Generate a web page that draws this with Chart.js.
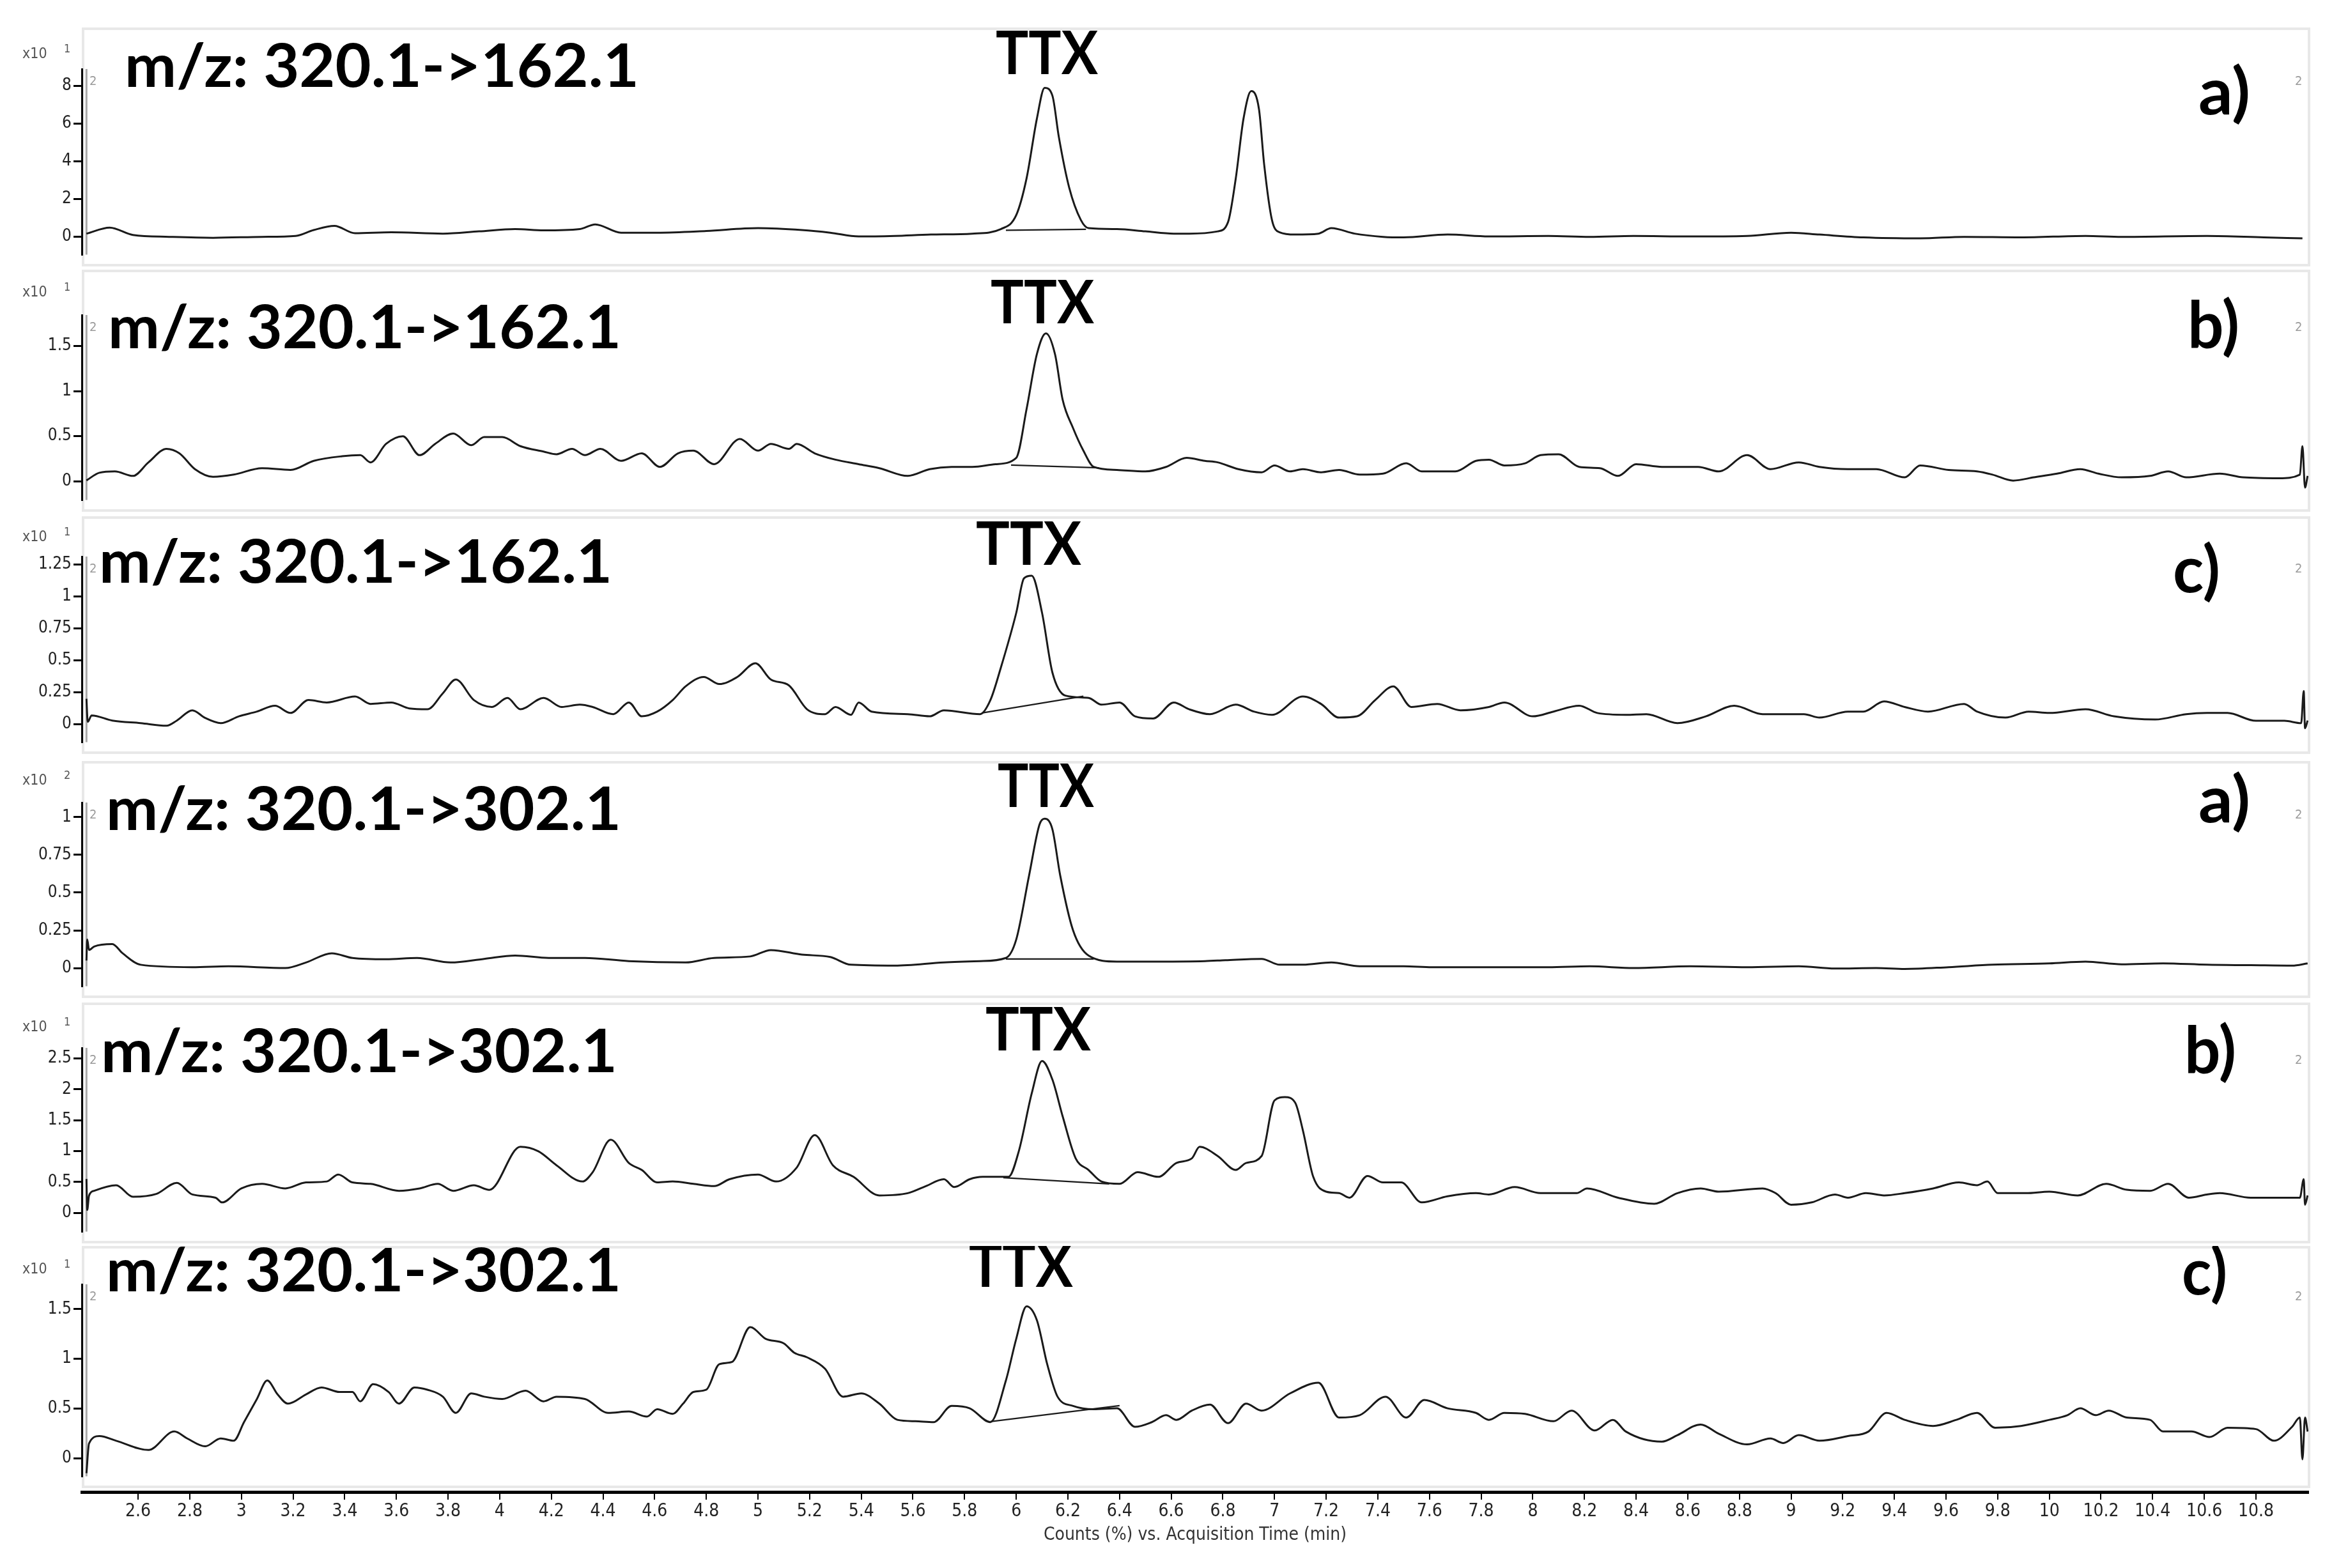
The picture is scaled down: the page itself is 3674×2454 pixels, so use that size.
<!DOCTYPE html>
<html>
<head>
<meta charset="utf-8">
<script src="https://cdn.jsdelivr.net/npm/chart.js@4.4.1/dist/chart.umd.min.js"></script>
<style>
  html, body { margin: 0; padding: 0; background: #fff; }
  #page { position: relative; width: 3674px; height: 2454px; overflow: hidden; background: #fff; }
  #page canvas { position: absolute; left: 0; }
</style>
</head>
<body>
<div id="page"></div>
<script>
// ---- data: [time (min), counts] ----
const xTicks = [2.6, 2.8, 3, 3.2, 3.4, 3.6, 3.8, 4, 4.2, 4.4, 4.6, 4.8, 5, 5.2, 5.4, 5.6, 5.8, 6, 6.2, 6.4,
  6.6, 6.8, 7, 7.2, 7.4, 7.6, 7.8, 8, 8.2, 8.4, 8.6, 8.8, 9, 9.2, 9.4, 9.6, 9.8, 10, 10.2, 10.4, 10.6, 10.8];

const transitions = ['320.1->162.1', '320.1->162.1', '320.1->162.1', '320.1->302.1', '320.1->302.1', '320.1->302.1'];
const sampleTags = ['a)', 'b)', 'c)', 'a)', 'b)', 'c)'];
const exponents = ['1', '1', '1', '2', '1', '1'];

const p1Ticks = [0, 2, 4, 6, 8];
const p2Ticks = [0, 0.5, 1, 1.5];
const p3Ticks = [0, 0.25, 0.5, 0.75, 1, 1.25];
const p4Ticks = [0, 0.25, 0.5, 0.75, 1];
const p5Ticks = [0, 0.5, 1, 1.5, 2, 2.5];
const p6Ticks = [0, 0.5, 1, 1.5];

const p1Trace = [[2.40,0.17],[2.49,0.49],[2.58,0.10],[2.72,0.0],[2.89,-0.05],[3.08,0.0],[3.21,0.05],[3.28,0.36],
  [3.36,0.58],[3.44,0.19],[3.58,0.24],[3.78,0.17],[3.92,0.29],[4.06,0.41],[4.17,0.34],[4.31,0.41],[4.37,0.66],
  [4.47,0.22],[4.61,0.22],[4.80,0.31],[5.00,0.46],[5.17,0.36],[5.28,0.22],[5.39,0.02],[5.53,0.05],[5.67,0.12],
  [5.83,0.17],[5.94,0.41],[6.00,1.15],[6.04,3.10],[6.08,6.27],[6.11,7.9],[6.14,7.49],[6.165,5.29],[6.205,2.61],
  [6.25,0.90],[6.28,0.46],[6.39,0.41],[6.50,0.29],[6.61,0.17],[6.67,0.17],[6.78,0.29],[6.82,0.78],[6.85,3.10],
  [6.88,6.27],[6.91,7.73],[6.94,6.76],[6.96,3.83],[6.99,0.90],[7.02,0.24],[7.08,0.12],[7.17,0.17],[7.22,0.46],
  [7.31,0.17],[7.42,0.0],[7.50,-0.03],[7.67,0.12],[7.83,0.02],[8.06,0.05],[8.22,0.0],[8.39,0.05],[8.61,0.02],
  [8.83,0.05],[9.00,0.22],[9.11,0.12],[9.28,-0.03],[9.50,-0.08],[9.67,0.0],[9.89,-0.03],[10.14,0.05],[10.28,0.0],
  [10.61,0.05],[10.83,-0.03],[10.98,-0.08]];

const p2Trace = [[2.40,0.01],[2.45,0.095],[2.51,0.11],[2.58,0.06],[2.64,0.21],[2.71,0.36],[2.76,0.31],[2.82,0.135],
  [2.89,0.05],[2.97,0.074],[3.08,0.146],[3.19,0.126],[3.28,0.227],[3.39,0.278],[3.46,0.29],[3.50,0.21],[3.56,0.415],
  [3.625,0.50],[3.69,0.29],[3.75,0.415],[3.82,0.53],[3.89,0.40],[3.94,0.49],[4.01,0.49],[4.08,0.39],[4.17,0.33],
  [4.22,0.30],[4.28,0.36],[4.33,0.29],[4.39,0.36],[4.47,0.227],[4.55,0.31],[4.62,0.16],[4.69,0.31],[4.75,0.34],
  [4.83,0.19],[4.93,0.47],[5.00,0.34],[5.05,0.415],[5.12,0.36],[5.15,0.415],[5.22,0.31],[5.30,0.24],[5.39,0.19],
  [5.47,0.146],[5.58,0.06],[5.665,0.135],[5.75,0.16],[5.83,0.16],[5.92,0.19],[6.00,0.26],[6.04,0.80],[6.08,1.41],
  [6.115,1.64],[6.15,1.41],[6.18,0.90],[6.22,0.59],[6.26,0.34],[6.30,0.16],[6.39,0.126],[6.50,0.11],[6.58,0.16],
  [6.66,0.26],[6.73,0.227],[6.78,0.21],[6.86,0.135],[6.95,0.10],[7.00,0.176],[7.06,0.11],[7.11,0.135],[7.18,0.10],
  [7.25,0.126],[7.33,0.074],[7.42,0.085],[7.51,0.20],[7.57,0.11],[7.70,0.11],[7.78,0.227],[7.83,0.24],[7.89,0.176],
  [7.97,0.20],[8.03,0.29],[8.10,0.30],[8.18,0.16],[8.26,0.146],[8.33,0.06],[8.40,0.19],[8.50,0.16],[8.64,0.16],
  [8.72,0.11],[8.83,0.29],[8.92,0.135],[9.03,0.21],[9.11,0.16],[9.22,0.135],[9.33,0.135],[9.44,0.044],[9.50,0.176],
  [9.61,0.126],[9.72,0.11],[9.78,0.074],[9.86,0.008],[9.94,0.044],[10.03,0.085],[10.12,0.135],[10.19,0.085],
  [10.28,0.044],[10.39,0.06],[10.46,0.11],[10.53,0.044],[10.66,0.085],[10.75,0.044],[10.89,0.034],[10.97,0.074],
  [10.98,0.39],[10.99,-0.07],[11.00,0.06]];

const p3Trace = [[2.40,0.20],[2.405,0.02],[2.42,0.07],[2.50,0.03],[2.61,0.01],[2.71,-0.01],[2.75,0.03],[2.81,0.11],
  [2.86,0.05],[2.92,0.01],[2.99,0.063],[3.06,0.10],[3.13,0.146],[3.19,0.089],[3.26,0.19],[3.33,0.171],[3.44,0.218],
  [3.50,0.16],[3.58,0.171],[3.65,0.125],[3.72,0.118],[3.78,0.243],[3.83,0.35],[3.90,0.19],[3.97,0.136],[4.03,0.207],
  [4.08,0.118],[4.17,0.207],[4.24,0.136],[4.31,0.154],[4.36,0.136],[4.44,0.08],[4.50,0.171],[4.55,0.063],[4.61,0.10],
  [4.67,0.19],[4.72,0.297],[4.79,0.37],[4.85,0.315],[4.92,0.37],[4.99,0.477],[5.05,0.35],[5.12,0.304],[5.19,0.118],
  [5.26,0.08],[5.30,0.136],[5.36,0.075],[5.39,0.171],[5.44,0.10],[5.58,0.08],[5.665,0.063],[5.72,0.11],[5.86,0.08],
  [5.90,0.19],[5.94,0.44],[6.00,0.87],[6.03,1.14],[6.06,1.16],[6.10,0.87],[6.14,0.405],[6.19,0.225],[6.28,0.207],
  [6.33,0.154],[6.40,0.171],[6.46,0.063],[6.53,0.046],[6.61,0.171],[6.67,0.118],[6.75,0.08],[6.85,0.154],[6.92,0.10],
  [6.99,0.075],[7.11,0.218],[7.18,0.16],[7.25,0.053],[7.32,0.063],[7.39,0.19],[7.46,0.297],[7.53,0.136],[7.63,0.16],
  [7.72,0.11],[7.83,0.136],[7.89,0.171],[8.00,0.063],[8.08,0.10],[8.18,0.146],[8.25,0.089],[8.36,0.075],[8.44,0.08],
  [8.56,0.01],[8.67,0.063],[8.78,0.146],[8.89,0.08],[9.05,0.08],[9.11,0.053],[9.22,0.10],[9.28,0.10],[9.36,0.179],
  [9.44,0.136],[9.53,0.10],[9.67,0.16],[9.72,0.10],[9.83,0.053],[9.92,0.10],[10.00,0.089],[10.14,0.118],[10.25,0.063],
  [10.41,0.038],[10.53,0.08],[10.61,0.089],[10.69,0.089],[10.80,0.028],[10.91,0.028],[10.975,0.01],[10.985,0.26],
  [10.99,-0.03],[11.00,0.03]];

const p4Trace = [[2.40,0.05],[2.403,0.19],[2.41,0.12],[2.43,0.143],[2.50,0.159],[2.54,0.098],[2.61,0.022],[2.81,0.006],
  [2.95,0.012],[3.17,0.0],[3.25,0.037],[3.35,0.098],[3.43,0.067],[3.56,0.058],[3.68,0.067],[3.81,0.037],[3.94,0.061],
  [4.06,0.083],[4.19,0.067],[4.33,0.067],[4.50,0.046],[4.72,0.037],[4.83,0.067],[4.97,0.077],[5.05,0.119],[5.17,0.089],
  [5.28,0.073],[5.36,0.022],[5.53,0.016],[5.72,0.037],[5.86,0.046],[5.96,0.067],[6.00,0.189],[6.05,0.616],[6.09,0.951],
  [6.11,0.99],[6.14,0.92],[6.17,0.616],[6.22,0.25],[6.28,0.083],[6.39,0.043],[6.55,0.043],[6.73,0.046],[6.81,0.052],
  [6.95,0.061],[7.02,0.022],[7.11,0.022],[7.22,0.037],[7.33,0.012],[7.50,0.012],[7.61,0.006],[7.78,0.006],[8.06,0.006],
  [8.22,0.012],[8.39,0.0],[8.61,0.012],[8.83,0.006],[9.03,0.012],[9.17,-0.003],[9.33,0.0],[9.44,-0.006],[9.61,0.006],
  [9.78,0.022],[10.00,0.031],[10.14,0.043],[10.28,0.025],[10.44,0.031],[10.61,0.022],[10.78,0.019],[10.94,0.016],
  [11.00,0.031]];

const p5Trace = [[2.40,0.55],[2.403,0.05],[2.41,0.28],[2.43,0.359],[2.515,0.449],[2.58,0.262],[2.67,0.307],[2.75,0.487],
  [2.81,0.299],[2.90,0.247],[2.925,0.171],[3.00,0.397],[3.08,0.471],[3.17,0.397],[3.25,0.494],[3.33,0.509],[3.375,0.622],
  [3.43,0.494],[3.50,0.471],[3.61,0.359],[3.69,0.397],[3.76,0.471],[3.82,0.359],[3.90,0.449],[3.96,0.374],[4.08,1.07],
  [4.15,0.997],[4.22,0.772],[4.32,0.509],[4.36,0.659],[4.43,1.184],[4.50,0.809],[4.55,0.696],[4.61,0.494],[4.67,0.509],
  [4.75,0.471],[4.83,0.434],[4.89,0.546],[5.00,0.622],[5.07,0.509],[5.15,0.734],[5.22,1.259],[5.29,0.772],[5.37,0.584],
  [5.47,0.284],[5.58,0.32],[5.65,0.434],[5.72,0.546],[5.76,0.419],[5.82,0.546],[5.87,0.584],[5.97,0.584],[6.01,1.0],
  [6.06,1.934],[6.10,2.458],[6.14,2.158],[6.18,1.559],[6.23,0.884],[6.28,0.696],[6.33,0.509],[6.40,0.471],[6.47,0.659],
  [6.55,0.584],[6.62,0.809],[6.68,0.884],[6.71,1.07],[6.78,0.921],[6.85,0.696],[6.89,0.809],[6.95,0.921],[7.00,1.82],
  [7.04,1.874],[7.08,1.784],[7.11,1.334],[7.15,0.584],[7.20,0.345],[7.25,0.321],[7.29,0.247],[7.36,0.599],[7.42,0.494],
  [7.49,0.494],[7.57,0.171],[7.67,0.27],[7.78,0.321],[7.83,0.299],[7.93,0.419],[8.03,0.321],[8.17,0.321],[8.21,0.397],
  [8.33,0.247],[8.47,0.149],[8.56,0.321],[8.65,0.397],[8.72,0.345],[8.89,0.397],[8.94,0.321],[9.00,0.134],[9.08,0.171],
  [9.17,0.299],[9.22,0.247],[9.29,0.321],[9.36,0.284],[9.44,0.321],[9.55,0.397],[9.65,0.494],[9.72,0.449],[9.76,0.509],
  [9.80,0.321],[9.91,0.321],[10.00,0.345],[10.11,0.284],[10.22,0.471],[10.30,0.375],[10.39,0.359],[10.46,0.471],
  [10.54,0.247],[10.61,0.299],[10.66,0.321],[10.78,0.247],[10.89,0.247],[10.97,0.247],[10.985,0.546],[10.99,0.134],
  [11.00,0.284]];

const p6Trace = [[2.40,-0.15],[2.41,0.15],[2.45,0.224],[2.515,0.177],[2.64,0.084],[2.74,0.27],[2.79,0.20],[2.86,0.121],
  [2.92,0.20],[2.97,0.177],[3.01,0.364],[3.06,0.597],[3.10,0.783],[3.14,0.643],[3.18,0.55],[3.25,0.643],[3.31,0.713],
  [3.38,0.667],[3.43,0.667],[3.46,0.573],[3.51,0.746],[3.57,0.667],[3.61,0.55],[3.67,0.713],[3.72,0.69],[3.78,0.62],
  [3.83,0.457],[3.89,0.653],[3.94,0.62],[4.01,0.597],[4.10,0.68],[4.17,0.573],[4.22,0.62],[4.33,0.597],[4.42,0.457],
  [4.50,0.471],[4.57,0.42],[4.61,0.494],[4.67,0.447],[4.71,0.55],[4.75,0.667],[4.80,0.69],[4.85,0.946],[4.90,0.97],
  [4.97,1.319],[5.03,1.202],[5.10,1.156],[5.14,1.063],[5.19,1.016],[5.26,0.90],[5.33,0.62],[5.40,0.653],[5.47,0.55],
  [5.54,0.387],[5.61,0.373],[5.68,0.364],[5.75,0.527],[5.82,0.503],[5.90,0.364],[5.96,0.783],[6.00,1.202],[6.04,1.529],
  [6.08,1.389],[6.12,0.946],[6.16,0.62],[6.22,0.527],[6.30,0.494],[6.39,0.503],[6.46,0.317],[6.525,0.364],[6.58,0.434],
  [6.62,0.387],[6.68,0.48],[6.75,0.54],[6.82,0.354],[6.89,0.55],[6.95,0.48],[7.06,0.653],[7.17,0.76],[7.25,0.41],
  [7.33,0.434],[7.43,0.62],[7.51,0.41],[7.58,0.587],[7.67,0.503],[7.78,0.457],[7.83,0.387],[7.89,0.457],[7.97,0.447],
  [8.08,0.373],[8.15,0.48],[8.24,0.28],[8.31,0.387],[8.36,0.27],[8.50,0.168],[8.56,0.233],[8.65,0.34],[8.72,0.247],
  [8.83,0.14],[8.92,0.20],[8.97,0.154],[9.03,0.233],[9.11,0.177],[9.22,0.224],[9.30,0.27],[9.37,0.457],[9.44,0.387],
  [9.55,0.326],[9.64,0.387],[9.72,0.457],[9.79,0.307],[9.89,0.326],[10.00,0.387],[10.07,0.434],[10.12,0.503],
  [10.18,0.434],[10.23,0.48],[10.30,0.41],[10.39,0.387],[10.44,0.27],[10.55,0.27],[10.62,0.214],[10.69,0.307],
  [10.80,0.294],[10.87,0.177],[10.94,0.317],[10.97,0.41],[10.98,-0.01],[10.99,0.41],[11.00,0.27]];

// integration baselines drawn under each TTX peak
const p1Base = [[5.96,0.35],[6.27,0.40]];
const p2Base = [[5.98,0.18],[6.32,0.15]];
const p3Base = [[5.87,0.09],[6.26,0.22]];
const p4Base = [[5.96,0.06],[6.30,0.06]];
const p5Base = [[5.95,0.57],[6.36,0.47]];
const p6Base = [[5.90,0.37],[6.40,0.53]];

// ---- layout (page pixels) ----
const PAGE_W = 3674;
const AREA_L = 128, AREA_R = 3612;
const X_MIN = 2.382, X_MAX = 11.003;
const NARROW = '"Liberation Sans Narrow", "DejaVu Sans Condensed", "Liberation Sans", sans-serif';
const BOLD = 'Lato, "Open Sans", sans-serif';

const frames = [[45,415],[424,799],[810,1178],[1193,1560],[1571,1944],[1952,2327]];
const axes = [[108,405],[493,790],[871,1168],[1256,1551],[1640,1933],[2010,2317]];
const yRanges = [[-0.94,8.9],[-0.206,1.843],[-0.138,1.31],[-0.12,1.097],[-0.30,2.67],[-0.18,1.75]];
const titlePos = [[195,136,805],[169,545,803],[155,912,803],[166,1299,806],[158,1678,808],[166,2021,806]];
const ttxPos = [[1558,116,160],[1550,506,162],[1527,884,165],[1561,1263,151],[1542,1644,165],[1516,2014,163]];
const tagPos = [[3440,179,81],[3423,544,81],[3400,927,74],[3440,1287,81],[3418,1679,81],[3414,2026,71]];
const expY = [85,458,841,1222,1608,1987];

const panels = [
  {trace: p1Trace, base: p1Base, ticks: p1Ticks},
  {trace: p2Trace, base: p2Base, ticks: p2Ticks},
  {trace: p3Trace, base: p3Base, ticks: p3Ticks},
  {trace: p4Trace, base: p4Base, ticks: p4Ticks},
  {trace: p5Trace, base: p5Base, ticks: p5Ticks},
  {trace: p6Trace, base: p6Base, ticks: p6Ticks}
];

function fitText(ctx, str, x, y, w, font) {
  ctx.font = font;
  ctx.textAlign = 'left';
  ctx.textBaseline = 'alphabetic';
  const m = ctx.measureText(str).width;
  ctx.save();
  ctx.translate(x, y);
  ctx.scale(w / m, 1);
  ctx.fillText(str, 0, 0);
  ctx.restore();
}

// frame, inner gray line and all the labels of one panel
const decor = {
  id: 'decor',
  beforeDraw(chart, args, opts) {
    const ctx = chart.ctx, a = chart.chartArea;
    ctx.save();
    ctx.strokeStyle = '#e8e8e8';
    ctx.lineWidth = 4;
    ctx.strokeRect(130, 2, 3483, chart.height - 4);
    const gx = chart.scales.x.getPixelForValue(2.4);
    ctx.strokeStyle = '#a8a8a8';
    ctx.lineWidth = 3;
    ctx.beginPath();
    ctx.moveTo(gx, a.top);
    ctx.lineTo(gx, a.bottom);
    ctx.stroke();
    ctx.restore();
  },
  afterDraw(chart, args, opts) {
    const i = opts.index, off = opts.offset;
    const ctx = chart.ctx;
    ctx.save();
    ctx.fillStyle = '#000';
    const t = titlePos[i], p = ttxPos[i], g = tagPos[i];
    fitText(ctx, 'm/z: ' + transitions[i], t[0], t[1] - off, t[2], 'bold 94px ' + BOLD);
    fitText(ctx, 'TTX', p[0], p[1] - off, p[2], 'bold 94px ' + BOLD);
    fitText(ctx, sampleTags[i], g[0], g[1] - off, g[2], 'bold 102px ' + BOLD);
    // scale exponent
    ctx.fillStyle = '#555';
    ctx.textBaseline = 'middle';
    ctx.font = '23px ' + NARROW;
    ctx.fillText('x10', 35, expY[i] - off);
    ctx.font = '18px ' + NARROW;
    ctx.fillText(exponents[i], 100, expY[i] - off - 8);
    // small trace numbers
    ctx.fillStyle = '#9a9a9a';
    ctx.font = '20px ' + NARROW;
    const top = axes[i][0] - off;
    ctx.fillText('2', 140, top + 20);
    ctx.fillText('2', 3591, top + 20);
    ctx.restore();
  }
};

const page = document.getElementById('page');

panels.forEach((p, i) => {
  const [fTop, fBot] = frames[i];
  const [aTop, aBot] = axes[i];
  const off = fTop - 2;
  const cv = document.createElement('canvas');
  cv.width = PAGE_W;
  cv.height = fBot - fTop + 4;
  cv.style.top = off + 'px';
  page.appendChild(cv);

  new Chart(cv, {
    type: 'line',
    data: {
      datasets: [
        {
          data: p.trace.map(([x, y]) => ({x, y})),
          borderColor: '#1a1a1a',
          borderWidth: 3,
          pointRadius: 0,
          cubicInterpolationMode: 'monotone'
        },
        {
          data: p.base.map(([x, y]) => ({x, y})),
          borderColor: '#1a1a1a',
          borderWidth: 2.2,
          pointRadius: 0
        }
      ]
    },
    options: {
      responsive: false,
      animation: false,
      devicePixelRatio: 1,
      layout: {
        padding: {left: 0, right: PAGE_W - AREA_R, top: aTop - off, bottom: off + cv.height - aBot}
      },
      plugins: {
        legend: {display: false},
        tooltip: {enabled: false},
        decor: {index: i, offset: off}
      },
      scales: {
        x: {type: 'linear', display: false, min: X_MIN, max: X_MAX},
        y: {
          min: yRanges[i][0],
          max: yRanges[i][1],
          afterFit: s => { s.width = AREA_L; },
          afterBuildTicks: s => { s.ticks = p.ticks.map(v => ({value: v})); },
          border: {display: true, color: '#000', width: 3},
          grid: {drawOnChartArea: false, drawTicks: true, tickLength: 13, color: '#000', lineWidth: 3},
          ticks: {
            font: {size: 26, family: NARROW},
            color: '#222',
            padding: 3,
            callback: v => String(v)
          }
        }
      }
    },
    plugins: [decor]
  });
});

// shared time axis under the last panel
const axCv = document.createElement('canvas');
axCv.width = PAGE_W;
axCv.height = 154;
axCv.style.top = '2300px';
page.appendChild(axCv);

new Chart(axCv, {
  type: 'line',
  data: {datasets: []},
  options: {
    responsive: false,
    animation: false,
    devicePixelRatio: 1,
    layout: {padding: {left: AREA_L, right: PAGE_W - AREA_R, top: 0, bottom: 0}},
    plugins: {legend: {display: false}, tooltip: {enabled: false}},
    scales: {
      x: {
        type: 'linear',
        min: X_MIN,
        max: X_MAX,
        afterBuildTicks: s => { s.ticks = xTicks.map(v => ({value: v})); },
        afterFit: s => { s.height = 119; },
        border: {display: true, color: '#000', width: 5},
        grid: {drawOnChartArea: false, drawTicks: true, tickLength: 12, color: '#000', lineWidth: 2},
        ticks: {
          font: {size: 28, family: NARROW},
          color: '#222',
          padding: 2,
          maxRotation: 0,
          autoSkip: false,
          callback: v => String(v)
        },
        title: {
          display: true,
          text: 'Counts (%) vs. Acquisition Time (min)',
          font: {size: 28, family: NARROW},
          color: '#333',
          padding: {top: 0, bottom: 34}
        }
      },
      y: {display: false}
    }
  }
});
</script>
</body>
</html>
